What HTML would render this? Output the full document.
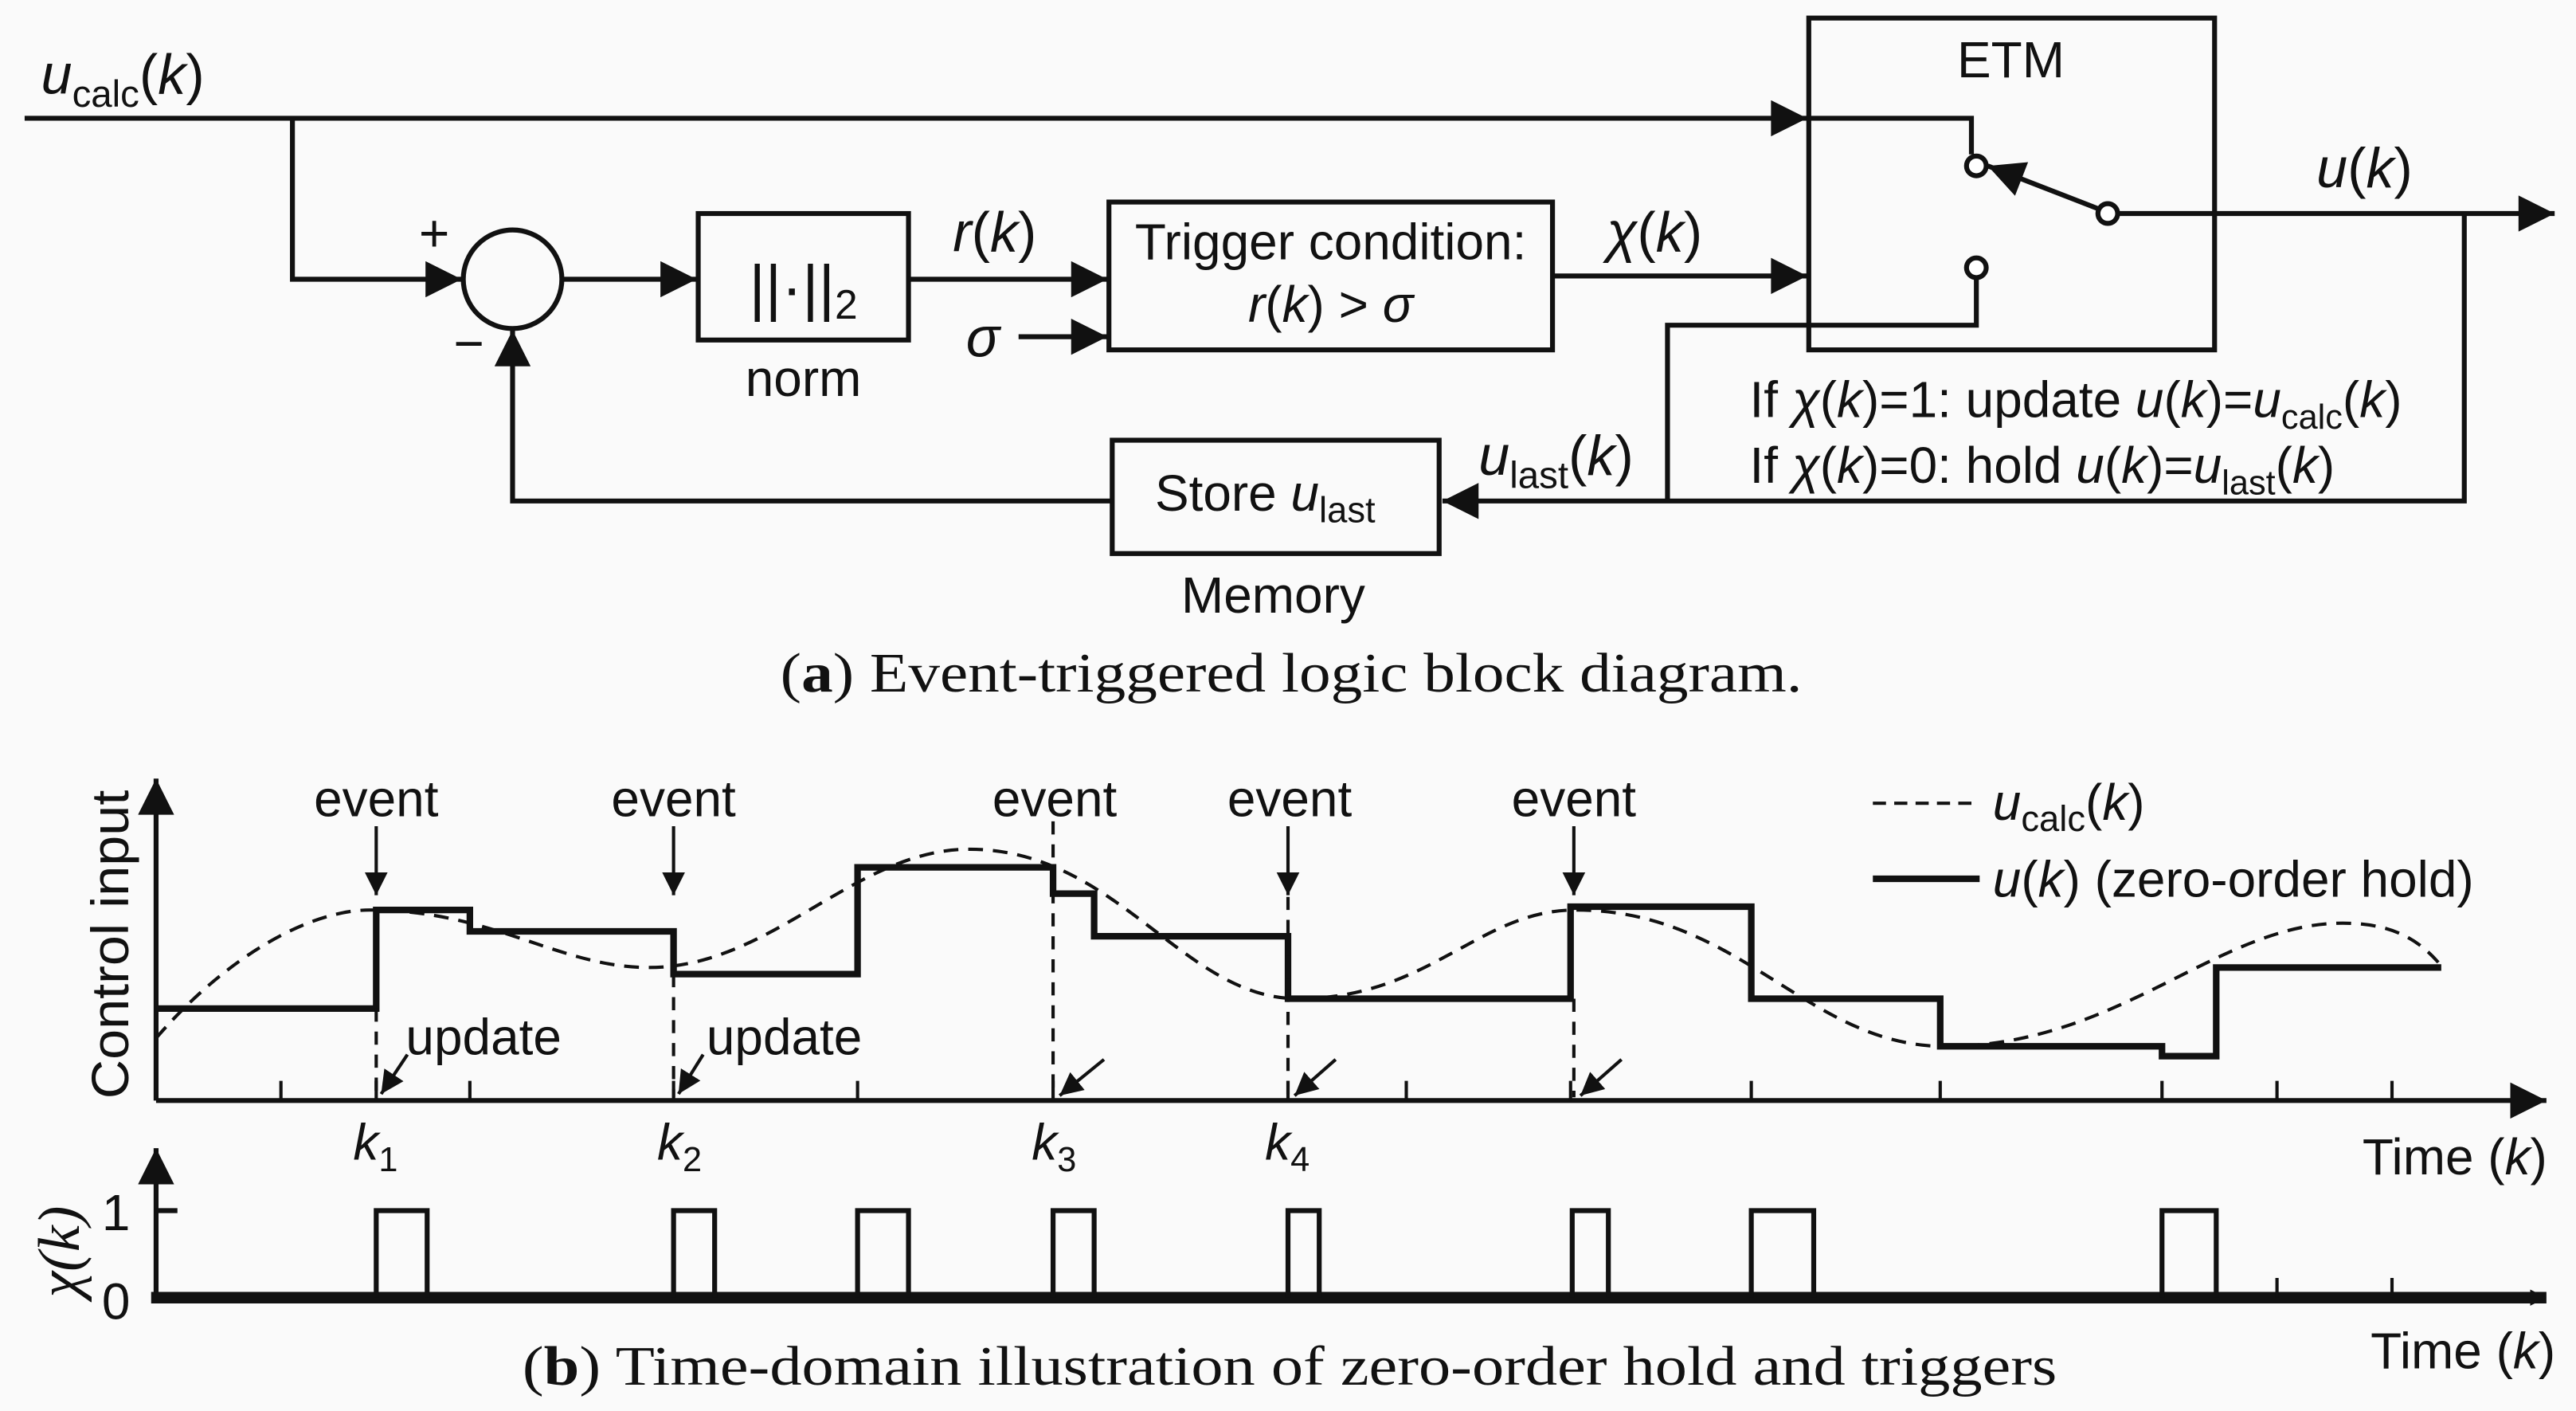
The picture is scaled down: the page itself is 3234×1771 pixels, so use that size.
<!DOCTYPE html>
<html><head><meta charset="utf-8"><style>
html,body{margin:0;padding:0;background:#fafafa;}
svg{display:block;}
text{font-family:"Liberation Sans",sans-serif;fill:#111;}
.s{font-family:"Liberation Serif",serif;}
</style></head><body>
<svg width="3234" height="1771" viewBox="0 0 1568 859" preserveAspectRatio="none" xmlns="http://www.w3.org/2000/svg">
<defs>
<marker id="a" viewBox="0 0 10 10" refX="10" refY="5" markerWidth="10" markerHeight="10" markerUnits="userSpaceOnUse" orient="auto"><path d="M0,0L10,5L0,10z" fill="#111"/></marker>
<marker id="A" viewBox="0 0 10 10" refX="10" refY="5" markerWidth="26" markerHeight="22" markerUnits="userSpaceOnUse" orient="auto"><path d="M0,0L10,5L0,10z" fill="#111"/></marker>
<marker id="m" viewBox="0 0 10 10" refX="10" refY="5" markerWidth="14" markerHeight="14" markerUnits="userSpaceOnUse" orient="auto"><path d="M0,0L10,5L0,10z" fill="#111"/></marker>
</defs>
<rect width="1568" height="859" fill="#fafafa"/>
<g stroke="#111" stroke-width="3" fill="none">
<line x1="15" y1="72" x2="1100" y2="72" marker-end="url(#A)"/>
<rect x="1101" y="11" width="247" height="202"/>
<polyline points="1101,72 1200,72 1200,94"/>
<circle cx="1203" cy="101" r="6" fill="#fff"/>
<circle cx="1283" cy="130" r="6" fill="#fff"/>
<line x1="1277" y1="127" x2="1210" y2="101" marker-end="url(#A)"/>
<circle cx="1203" cy="163" r="6" fill="#fff"/>
<polyline points="1203,169 1203,198 1015,198 1015,305"/>
<line x1="1289" y1="130" x2="1555" y2="130" marker-end="url(#A)"/>
<polyline points="1500,130 1500,305 878,305" marker-end="url(#A)"/>
<rect x="677" y="268" width="199" height="69"/>
<polyline points="677,305 312,305 312,201" marker-end="url(#A)"/>
<circle cx="312" cy="170" r="30"/>
<polyline points="178,72 178,170 281,170" marker-end="url(#A)"/>
<line x1="342" y1="170" x2="424" y2="170" marker-end="url(#A)"/>
<rect x="425" y="130" width="128" height="77"/>
<line x1="553" y1="170" x2="674" y2="170" marker-end="url(#A)"/>
<line x1="620" y1="205" x2="674" y2="205" marker-end="url(#A)"/>
<rect x="675" y="123" width="270" height="90"/>
<line x1="945" y1="168" x2="1100" y2="168" marker-end="url(#A)"/>
</g>
<text x="25" y="57" font-size="34"><tspan font-style="italic">u</tspan><tspan font-size="23" dy="8">calc</tspan><tspan dy="-8">(</tspan><tspan font-style="italic">k</tspan>)</text>
<text x="1224" y="47" font-size="31" text-anchor="middle">ETM</text>
<text x="1410" y="114" font-size="34"><tspan font-style="italic">u</tspan>(<tspan font-style="italic">k</tspan>)</text>
<text x="255" y="153" font-size="32">+</text>
<text x="276" y="220" font-size="32">−</text>
<text x="489" y="188" font-size="38" text-anchor="middle">||·||<tspan font-size="25" dy="6">2</tspan></text>
<text x="489" y="241" font-size="31" text-anchor="middle">norm</text>
<text x="580" y="153" font-size="34"><tspan font-style="italic">r</tspan>(<tspan font-style="italic">k</tspan>)</text>
<text x="588" y="217" font-size="34" font-style="italic">σ</text>
<text x="810" y="158" font-size="31" text-anchor="middle">Trigger condition:</text>
<text x="810" y="196" font-size="31" text-anchor="middle"><tspan font-style="italic">r</tspan>(<tspan font-style="italic">k</tspan>) &gt; <tspan font-style="italic">σ</tspan></text>
<text x="978" y="153" font-size="34"><tspan font-style="italic">χ</tspan>(<tspan font-style="italic">k</tspan>)</text>
<text x="703" y="311" font-size="31">Store <tspan font-style="italic">u</tspan><tspan font-size="22" dy="7">last</tspan></text>
<text x="775" y="373" font-size="31" text-anchor="middle">Memory</text>
<text x="900" y="289" font-size="34"><tspan font-style="italic">u</tspan><tspan font-size="23" dy="8">last</tspan><tspan dy="-8">(</tspan><tspan font-style="italic">k</tspan>)</text>
<text x="1065" y="254" font-size="31">If <tspan font-style="italic">χ</tspan>(<tspan font-style="italic">k</tspan>)=1: update <tspan font-style="italic">u</tspan>(<tspan font-style="italic">k</tspan>)=<tspan font-style="italic">u</tspan><tspan font-size="21" dy="7">calc</tspan><tspan dy="-7">(</tspan><tspan font-style="italic">k</tspan>)</text>
<text x="1065" y="294" font-size="31">If <tspan font-style="italic">χ</tspan>(<tspan font-style="italic">k</tspan>)=0: hold <tspan font-style="italic">u</tspan>(<tspan font-style="italic">k</tspan>)=<tspan font-style="italic">u</tspan><tspan font-size="21" dy="7">last</tspan><tspan dy="-7">(</tspan><tspan font-style="italic">k</tspan>)</text>
<text class="s" x="475" y="421" font-size="34" textLength="622" lengthAdjust="spacingAndGlyphs">(<tspan font-weight="bold">a</tspan>) Event-triggered logic block diagram.</text>

<g stroke="#111" fill="none">
<line x1="95" y1="670" x2="95" y2="474" stroke-width="3" marker-end="url(#A)"/>
<line x1="95" y1="670" x2="1550" y2="670" stroke-width="3" marker-end="url(#A)"/>
<g stroke-width="2">
<path d="M171,670v-12M229,670v-12M286,670v-12M410,670v-12M522,670v-12M641,670v-12M784,670v-12M856,670v-12M956,670v-12M1066,670v-12M1181,670v-12M1316,670v-12M1386,670v-12M1456,670v-12"/>
</g>
<path d="M95,632 C140,580 190,554 225,554 C300,554 340,589 395,589 C470,589 520,517 590,517 C680,517 720,608 790,608 C870,608 900,554 959,554 C1060,554 1100,637 1184,637 C1290,637 1350,562 1426,562 C1460,562 1475,575 1486,588" stroke-width="2" stroke-dasharray="9,6"/>
<polyline stroke-width="4" points="95,614 229,614 229,554 286,554 286,567 410,567 410,593 522,593 522,528 641,528 641,544 666,544 666,570 784,570 784,608 956,608 956,552 1066,552 1066,608 1181,608 1181,637 1316,637 1316,643 1349,643 1349,589 1486,589"/>
<g stroke-width="2" stroke-dasharray="8,6">
<line x1="229" y1="614" x2="229" y2="668"/>
<line x1="410" y1="593" x2="410" y2="668"/>
<line x1="641" y1="500" x2="641" y2="668"/>
<line x1="784" y1="546" x2="784" y2="668"/>
<line x1="958" y1="608" x2="958" y2="668"/>
</g>
<g stroke-width="2">
<line x1="229" y1="503" x2="229" y2="545" marker-end="url(#m)"/>
<line x1="410" y1="503" x2="410" y2="545" marker-end="url(#m)"/>
<line x1="784" y1="503" x2="784" y2="545" marker-end="url(#m)"/>
<line x1="958" y1="503" x2="958" y2="545" marker-end="url(#m)"/>
<line x1="248" y1="642" x2="232" y2="666" marker-end="url(#m)"/>
<line x1="428" y1="642" x2="413" y2="666" marker-end="url(#m)"/>
<line x1="672" y1="645" x2="645" y2="667" marker-end="url(#m)"/>
<line x1="813" y1="645" x2="788" y2="667" marker-end="url(#m)"/>
<line x1="987" y1="645" x2="962" y2="667" marker-end="url(#m)"/>
</g>
<line x1="1140" y1="489" x2="1205" y2="489" stroke-width="2" stroke-dasharray="8,5"/>
<line x1="1140" y1="535" x2="1205" y2="535" stroke-width="4"/>
<line x1="95" y1="790" x2="95" y2="699" stroke-width="3" marker-end="url(#A)"/>
<line x1="95" y1="737" x2="108" y2="737" stroke-width="3"/>
<line x1="92" y1="790" x2="1550" y2="790" stroke-width="7" marker-end="url(#a)"/>
<path d="M1386,790v-12M1456,790v-12" stroke-width="2"/>
<path stroke-width="3" d="M229,790V737H260V790M410,790V737H435V790M522,790V737H553V790M641,790V737H666V790M784,790V737H803V790M957,790V737H979V790M1066,790V737H1104V790M1316,790V737H1349V790"/>
</g>
<text x="78" y="575" font-size="32" text-anchor="middle" transform="rotate(-90 78 575)" textLength="188" lengthAdjust="spacingAndGlyphs">Control input</text>
<text x="48" y="762" font-size="36" text-anchor="middle" transform="rotate(-90 48 762)" font-style="italic" class="s">χ(k)</text>
<text x="62" y="749" font-size="31">1</text>
<text x="62" y="803" font-size="31">0</text>
<g font-size="31" text-anchor="middle">
<text x="229" y="497">event</text><text x="410" y="497">event</text><text x="642" y="497">event</text><text x="785" y="497">event</text><text x="958" y="497">event</text>
</g>
<text x="247" y="642" font-size="31">update</text>
<text x="430" y="642" font-size="31">update</text>
<g font-size="31" font-style="italic">
<text x="215" y="706">k<tspan font-size="21" dy="7" font-style="normal">1</tspan></text>
<text x="400" y="706">k<tspan font-size="21" dy="7" font-style="normal">2</tspan></text>
<text x="628" y="706">k<tspan font-size="21" dy="7" font-style="normal">3</tspan></text>
<text x="770" y="706">k<tspan font-size="21" dy="7" font-style="normal">4</tspan></text>
</g>
<text x="1438" y="715" font-size="31">Time (<tspan font-style="italic">k</tspan>)</text>
<text x="1443" y="833" font-size="31">Time (<tspan font-style="italic">k</tspan>)</text>
<text x="1213" y="499" font-size="31"><tspan font-style="italic">u</tspan><tspan font-size="22" dy="7">calc</tspan><tspan dy="-7">(</tspan><tspan font-style="italic">k</tspan>)</text>
<text x="1213" y="546" font-size="31"><tspan font-style="italic">u</tspan>(<tspan font-style="italic">k</tspan>) (zero-order hold)</text>
<text class="s" x="318" y="843" font-size="34" textLength="934" lengthAdjust="spacingAndGlyphs">(<tspan font-weight="bold">b</tspan>) Time-domain illustration of zero-order hold and triggers</text>
</svg>
</body></html>
